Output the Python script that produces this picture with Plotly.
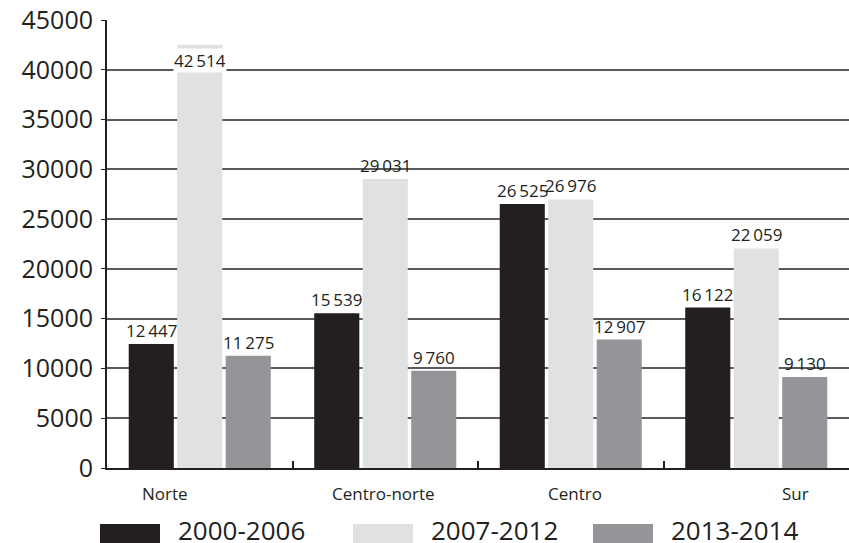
import plotly.graph_objs as go

regions = ['Norte', 'Centro-norte', 'Centro', 'Sur']
periods = ['2000-2006', '2007-2012', '2013-2014']
values_2000_2006 = [12447, 15539, 26525, 16122]
values_2007_2012 = [42514, 29031, 26976, 22059]
values_2013_2014 = [11275, 9760, 12907, 9130]
y_ticks = [0, 5000, 10000, 15000, 20000, 25000, 30000, 35000, 40000, 45000]

series = [values_2000_2006, values_2007_2012, values_2013_2014]
colors = ['#231f20', '#e0e1e3', '#939598']
font_family = 'Open Sans, sans-serif'
text_color = '#231f20'

W, H = 849, 543
left, top, bottom = 107, 20, 75
plot_w = W - left
plot_h = H - top - bottom


def fmt(v):
    return f'{v:,}'.replace(',', '\u2009')


# helpers: pixel -> paper coords
def px_x(p):
    return (p - left) / plot_w


def px_y(p):
    return (H - bottom - p) / plot_h


fig = go.Figure()
for name, vals, col in zip(periods, series, colors):
    fig.add_trace(go.Bar(x=regions, y=vals, name=name, marker=dict(color=col, line=dict(width=0)),
                         showlegend=False, hoverinfo='skip'))

bargap = 0.216
slot = plot_w / len(regions) * (1 - bargap) / 3
annotations = []
top_value = max(values_2007_2012)
for i, vals in enumerate(series):
    for reg, v in zip(regions, vals):
        a = dict(x=reg, y=v, xref='x', yref='y', text=fmt(v), showarrow=False,
                 xshift=(i - 1) * slot, font=dict(family=font_family, size=17, color=text_color))
        if v == top_value:
            # tallest bar: label sits inside the top of the bar on a white box
            a.update(yanchor='top', yshift=-3, bgcolor='white', borderpad=0)
        else:
            a.update(yanchor='bottom', yshift=0)
        annotations.append(a)

# category labels (as placed in the original, not quite centred on the groups)
label_shift = [-35, -2, 4, 39]
for reg, s in zip(regions, label_shift):
    annotations.append(dict(x=reg, y=px_y(493), xref='x', yref='paper', text=reg, showarrow=False,
                            xshift=s, yanchor='middle',
                            font=dict(family=font_family, size=17, color=text_color)))

# legend drawn by hand: wide colour blocks
shapes = []
legend_boxes = [(100, 160), (353, 413), (593, 653)]
for name, col, (x0, x1) in zip(periods, colors, legend_boxes):
    shapes.append(dict(type='rect', xref='paper', yref='paper', x0=px_x(x0), x1=px_x(x1),
                       y0=px_y(543), y1=px_y(524), fillcolor=col, line=dict(width=0)))
    annotations.append(dict(x=px_x(x1 + 16), y=px_y(530), xref='paper', yref='paper', text=name,
                            showarrow=False, xanchor='left', yanchor='middle',
                            font=dict(family=font_family, size=26, color=text_color)))

fig.update_layout(
    width=W, height=H,
    margin=dict(l=left, r=0, t=top, b=bottom, autoexpand=False),
    paper_bgcolor='white', plot_bgcolor='white',
    barmode='group', bargap=bargap, bargroupgap=0.07,
    font=dict(family=font_family, color=text_color),
    xaxis=dict(showticklabels=False, ticks='inside', tickson='boundaries', ticklen=7,
               tickcolor='#231f20', tickwidth=1.5, showline=True, linecolor='#231f20',
               linewidth=2, showgrid=False, automargin=False),
    yaxis=dict(range=[0, 45000], tickvals=y_ticks, ticktext=[str(t) for t in y_ticks],
               tickfont=dict(family=font_family, size=25, color=text_color),
               showline=True, linecolor='#231f20', linewidth=2, ticks='outside',
               ticklen=4, tickcolor='#231f20', showgrid=True, gridcolor='#5a5a5a',
               gridwidth=1.5, zeroline=False, automargin=False, ticklabelstandoff=3),
    annotations=annotations,
    shapes=shapes,
)

# drop the default body margin so the figure sits at the page corner
fig.write_html("out.html", config={'displayModeBar': False},
               post_script="document.body.style.margin='0';")
